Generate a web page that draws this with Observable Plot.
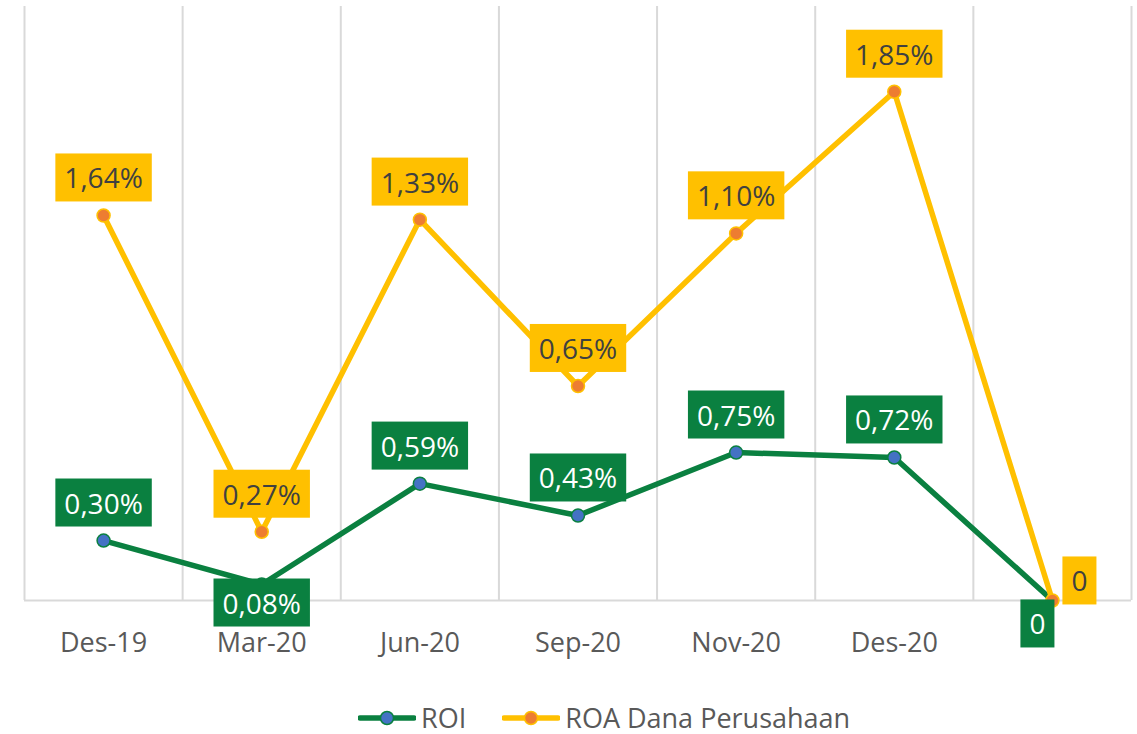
<!DOCTYPE html>
<html><head><meta charset="utf-8">
<script src="https://cdn.jsdelivr.net/npm/d3@7"></script>
<script src="https://cdn.jsdelivr.net/npm/@observablehq/plot@0.6"></script>
<style>
body{margin:0;background:#fff;font-family:"Open Sans",sans-serif;}
#legend{display:flex;align-items:center;height:32px;margin-top:8px;padding-left:358px;font-size:27px;line-height:32px;color:#595959;}
.item{display:flex;align-items:center;margin-right:36px;}
.item svg{margin-right:5px;}
</style></head><body><div id="chart"></div><div id="legend"></div>
<script>
const categories = ["Des-19","Mar-20","Jun-20","Sep-20","Nov-20","Des-20",""];
const roiValues = [0.218,0.058,0.425,0.309,0.538,0.520,0];
const roaValues = [1.40,0.25,1.385,0.78,1.335,1.85,0];
const roiLabels = ["0,30%","0,08%","0,59%","0,43%","0,75%","0,72%","0"];
const roaLabels = ["1,64%","0,27%","1,33%","0,65%","1,10%","1,85%","0"];
const roiPlacement = ["above","below","above","above","above","above","belowLeft"];
const roaPlacement = ["above","above","above","above","above","above","right"];
const seriesNames = ["ROI","ROA Dana Perusahaan"];

const GREEN = "#0A8040", YELLOW = "#FFC000", BLUE = "#4472C4", ORANGE = "#ED7D31";
const GREEN_TEXT = "#ffffff", YELLOW_TEXT = "#404040";
const rows = categories.map((c,i)=>({i, cat:c, roi:roiValues[i], roa:roaValues[i],
  roiLabel:roiLabels[i], roaLabel:roaLabels[i], roiPl:roiPlacement[i], roaPl:roaPlacement[i]}));
const bounds = categories.map((_,i)=>i-0.5).concat([categories.length-0.5]);

function labels(yKey, textKey, plKey, pl, dx, dy, fill){
  return Plot.text(rows, {filter:d=>d[plKey]===pl, x:"i", y:yKey, text:textKey, dx, dy,
    fill, fontSize:28, fontFamily:"Open Sans"});
}

const chart = Plot.plot({
  width:1137, height:694,
  marginLeft:24, marginRight:6, marginTop:6, marginBottom:94,
  style:{fontFamily:"Open Sans", background:"#fff"},
  x:{domain:[-0.5, categories.length-0.5], axis:null},
  y:{domain:[0,2.16], axis:null},
  marks:[
    Plot.ruleX(bounds, {stroke:"#d9d9d9", strokeWidth:2}),
    Plot.ruleY([0], {stroke:"#d9d9d9", strokeWidth:2}),
    Plot.axisX({ticks:d3.range(categories.length-1), tickFormat:i=>categories[i], tickSize:0, tickPadding:32, fontSize:27, fill:"#595959", fontFamily:"Open Sans", label:null}),
    Plot.line(rows, {x:"i", y:"roi", stroke:GREEN, strokeWidth:5.5}),
    Plot.dot(rows.slice(0,-1), {x:"i", y:"roi", r:6.5, fill:BLUE, stroke:GREEN, strokeWidth:1.5}),
    Plot.line(rows, {x:"i", y:"roa", stroke:YELLOW, strokeWidth:5.5}),
    Plot.dot(rows, {x:"i", y:"roa", r:6.5, fill:ORANGE, stroke:YELLOW, strokeWidth:1.5}),
    labels("roi","roiLabel","roiPl","above",0,-36,GREEN_TEXT),
    labels("roi","roiLabel","roiPl","below",0,20,GREEN_TEXT),
    labels("roi","roiLabel","roiPl","belowLeft",-15,25,GREEN_TEXT),
    labels("roa","roaLabel","roaPl","above",0,-36,YELLOW_TEXT),
    labels("roa","roaLabel","roaPl","right",27,-18,YELLOW_TEXT)
  ]
});
document.getElementById("chart").appendChild(chart);
const NS = "http://www.w3.org/2000/svg";
chart.querySelectorAll('g[aria-label="text"]').forEach(g=>{
  const f = (g.getAttribute("fill")||"").toLowerCase();
  const color = f===GREEN_TEXT ? GREEN : f===YELLOW_TEXT ? YELLOW : null;
  if (!color) return;
  g.querySelectorAll("text").forEach(t=>{
    const b = t.getBBox();
    const r = document.createElementNS(NS,"rect");
    r.setAttribute("x", b.x-9); r.setAttribute("y", b.y+b.height/2-24);
    r.setAttribute("width", b.width+18); r.setAttribute("height", 48);
    r.setAttribute("fill", color);
    if (t.getAttribute("transform")) r.setAttribute("transform", t.getAttribute("transform"));
    g.insertBefore(r, t);
  });
});
const legend = document.getElementById("legend");
[[seriesNames[0],GREEN,BLUE],[seriesNames[1],YELLOW,ORANGE]].forEach(([n,lc,mc])=>{
  const it = document.createElement("div"); it.className="item";
  it.innerHTML = `<svg width="58" height="16"><line x1="2" x2="56" y1="8" y2="8" stroke="${lc}" stroke-width="5.5" stroke-linecap="round"/><circle cx="29" cy="8" r="6.5" fill="${mc}" stroke="${lc}" stroke-width="1.5"/></svg><span>${n}</span>`;
  legend.appendChild(it);
});
</script></body></html>
